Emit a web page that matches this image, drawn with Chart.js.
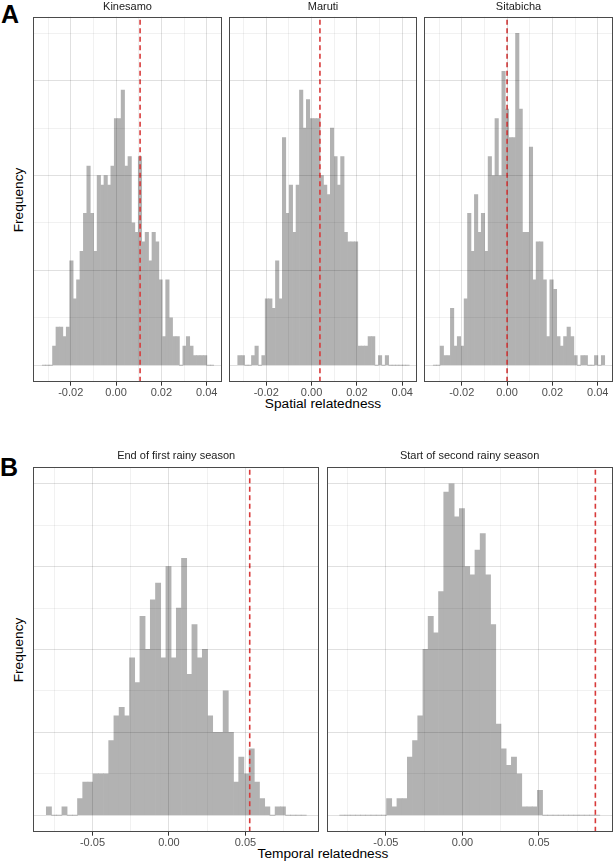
<!DOCTYPE html>
<html>
<head>
<meta charset="utf-8">
<script src="https://cdn.jsdelivr.net/npm/chart.js@4.4.1/dist/chart.umd.min.js"></script>
<style>
  html, body { margin: 0; padding: 0; background: #ffffff; }
  body { width: 615px; height: 867px; position: relative; overflow: hidden;
         font-family: 'Liberation Sans', Arial, Helvetica, sans-serif; }
  canvas { position: absolute; }
  .tag { position: absolute; font-size: 25px; font-weight: bold; line-height: 25px; color: #000; }
  .axt { position: absolute; font-size: 13.7px; line-height: 13.7px; color: #000; white-space: nowrap; text-align: center; width: 200px; }
  .ylab { position: absolute; width: 200px; height: 16px; line-height: 16px; font-size: 13.7px; color: #000;
          text-align: center; transform: rotate(-90deg); white-space: nowrap; }
</style>
</head>
<body>
<div class="tag" style="left:1px; top:1.7px;">A</div>
<div class="tag" style="left:0px; top:455px;">B</div>
<div class="ylab" style="left:-80.8px; top:191.5px;">Frequency</div>
<div class="ylab" style="left:-80.8px; top:641.5px;">Frequency</div>
<div class="axt" style="left:223px; top:396.5px;">Spatial relatedness</div>
<div class="axt" style="left:223px; top:846.5px;">Temporal relatedness</div>

<canvas id="cK" width="207" height="405" style="left:24px; top:0px;"></canvas>
<canvas id="cM" width="207" height="405" style="left:219px; top:0px;"></canvas>
<canvas id="cS" width="207" height="405" style="left:415px; top:0px;"></canvas>
<canvas id="cB1" width="305" height="407" style="left:24px; top:448px;"></canvas>
<canvas id="cB2" width="305" height="407" style="left:317px; top:448px;"></canvas>

<script>
// ---------------- Data ----------------
// Panel A: spatial relatedness, 50 bins shared by the three facets
const binStartA = -0.03255;
const binWidthA = 0.0015125;
const kinesamoCounts = [0,0,0,2,4,4,3,4,11,7, 9,12,16,21,16,12,20,19,20,19, 21,26,26,29,21,22,15,14,22,13, 14,11,14,13,9,3,9,5,3,3, 0,2,3,2,1,1,1,1,0,0];
const marutiCounts   = [1,1,0,0,1,2,0,1,7,7, 6,11,7,24,16,19,14,19,29,25, 28,26,26,26,20,19,18,25,22,19, 22,14,13,13,13,2,2,2,3,3, 0,1,0,1,0,0,0,0,0,0];
const sitabichaCounts= [0,0,2,1,1,6,2,3,2,7, 16,12,18,14,16,12,22,20,26,20, 31,27,24,24,35,27,14,14,23,9, 13,13,9,3,9,8,3,2,3,4, 3,1,0,1,1,0,0,1,0,1];
const observedKinesamo = 0.0106;
const observedMaruti = 0.0037;
const observedSitabicha = 0.0;

// Panel B: temporal relatedness, 50 bins shared by the two facets
const binStartB = -0.0802;
const binWidthB = 0.0034;
const endFirstRainyCounts = [1,0,0,1,0,0,2,4,4,5, 5,5,9,12,13,12,19,16,24,20, 26,28,19,30,19,25,31,17,23,19, 20,12,10,10,15,10,4,7,5,8, 4,2,1,0,1,1,0,0,0,0];
const startSecondRainyCounts = [0,0,0,0,0,0,0,0,0,2, 1,2,2,7,9,12,20,24,22,27, 39,40,36,37,30,29,32,34,29,23, 11,8,6,7,5,1,1,1,3,0, 0,0,0,0,0,0,0,0,0,0];
const observedEndFirst = 0.0528;
const observedStartSecond = 0.0869;

// Axes
const xRangeA = [-0.0365, 0.0466];
const yRangeA = [-1.75, 36.75];
const xTicksA = [-0.03, -0.02, -0.01, 0, 0.01, 0.02, 0.03, 0.04];
const xTickLabelsA = ['', '-0.02', '', '0.00', '', '0.02', '', '0.04'];
const yTicksA = [0, 5, 10, 15, 20, 25, 30, 35];

const xRangeB = [-0.0887, 0.0981];
const yRangeB = [-2, 42];
const xTicksB = [-0.075, -0.05, -0.025, 0, 0.025, 0.05, 0.075];
const xTickLabelsB = ['', '-0.05', '', '0.00', '', '0.05', ''];
const yTicksB = [0, 5, 10, 15, 20, 25, 30, 35, 40];

const facetTitles = ['Kinesamo', 'Maruti', 'Sitabicha', 'End of first rainy season', 'Start of second rainy season'];

// ---------------- Drawing ----------------
const FONT = "'Liberation Sans', Arial, Helvetica, sans-serif";
const MAJOR = 'rgba(0,0,0,0.12)';
const MINOR = 'rgba(0,0,0,0.055)';

const frame = {
  id: 'frame',
  afterDraw(chart) {
    const a = chart.chartArea, c = chart.ctx;
    c.save();
    c.strokeStyle = '#4a4a4a';
    c.lineWidth = 1;
    const l = Math.round(a.left) + 0.5, t = Math.round(a.top) + 0.5;
    const r = Math.round(a.right) - 0.5, b = Math.round(a.bottom) - 0.5;
    c.strokeRect(l, t, r - l, b - t);
    c.restore();
  }
};

function makeChart(id, title, counts, binStart, binWidth, observed, xRange, yRange, xTicks, xLabels, yTicks, pad, titlePadBottom) {
  const bars = counts.map((c, k) => ({ x: binStart + (k + 0.5) * binWidth, y: c }));
  const vline = [{ x: observed, y: yRange[0] }, { x: observed, y: yRange[1] }];
  new Chart(document.getElementById(id), {
    type: 'bar',
    data: {
      datasets: [
        { type: 'line', data: vline, borderColor: '#d83a3a', borderWidth: 1.6, borderDash: [5, 3.5],
          pointRadius: 0, fill: false, order: 0 },
        { type: 'bar', data: bars, backgroundColor: '#b2b2b2', borderWidth: 0,
          categoryPercentage: 1, barPercentage: 1, order: 1 }
      ]
    },
    options: {
      responsive: false, animation: false, devicePixelRatio: 1,
      layout: { padding: pad },
      plugins: {
        legend: { display: false }, tooltip: { enabled: false },
        title: { display: true, text: title, color: '#1a1a1a',
                 font: { family: FONT, size: 11, weight: 'normal', lineHeight: 1.2 },
                 padding: { top: 0, bottom: titlePadBottom } }
      },
      scales: {
        x: {
          type: 'linear', min: xRange[0], max: xRange[1], offset: false,
          border: { display: false },
          grid: { offset: false, z: 1, drawTicks: true, tickLength: 4,
                  color: (c) => xLabels[c.index] ? MAJOR : MINOR,
                  lineWidth: 1,
                  tickColor: (c) => xLabels[c.index] ? '#333333' : 'rgba(0,0,0,0)',
                  tickWidth: 1 },
          ticks: { autoSkip: false, maxRotation: 0, minRotation: 0, padding: 1, color: '#4d4d4d',
                   font: { family: FONT, size: 11, lineHeight: 1.2 },
                   callback: (v, i) => xLabels[i] },
          afterBuildTicks: (s) => { s.ticks = xTicks.map(v => ({ value: v })); },
          afterFit: (s) => { s.height = 23.3; }
        },
        y: {
          type: 'linear', min: yRange[0], max: yRange[1],
          border: { display: false },
          grid: { z: 1, drawTicks: false,
                  color: (c) => (c.tick && c.tick.value % 10 === 0) ? MAJOR : MINOR,
                  lineWidth: 1 },
          ticks: { display: false },
          afterBuildTicks: (s) => { s.ticks = yTicks.map(v => ({ value: v })); }
        }
      }
    },
    plugins: [frame]
  });
}

const padA = (l, r) => ({ left: l, right: r, top: 0.4, bottom: 0 });
makeChart('cK', facetTitles[0], kinesamoCounts, binStartA, binWidthA, observedKinesamo, xRangeA, yRangeA, xTicksA, xTickLabelsA, yTicksA, padA(9.3, 9.3), 3.1);
makeChart('cM', facetTitles[1], marutiCounts, binStartA, binWidthA, observedMaruti, xRangeA, yRangeA, xTicksA, xTickLabelsA, yTicksA, padA(9.8, 8.8), 3.1);
makeChart('cS', facetTitles[2], sitabichaCounts, binStartA, binWidthA, observedSitabicha, xRangeA, yRangeA, xTicksA, xTickLabelsA, yTicksA, padA(9.3, 9.3), 3.1);

const padB = (l, r) => ({ left: l, right: r, top: 1.4, bottom: 0 });
makeChart('cB1', facetTitles[3], endFirstRainyCounts, binStartB, binWidthB, observedEndFirst, xRangeB, yRangeB, xTicksB, xTickLabelsB, yTicksB, padB(9.3, 10), 4.6);
makeChart('cB2', facetTitles[4], startSecondRainyCounts, binStartB, binWidthB, observedStartSecond, xRangeB, yRangeB, xTicksB, xTickLabelsB, yTicksB, padB(9.7, 9.5), 4.6);
</script>
</body>
</html>
